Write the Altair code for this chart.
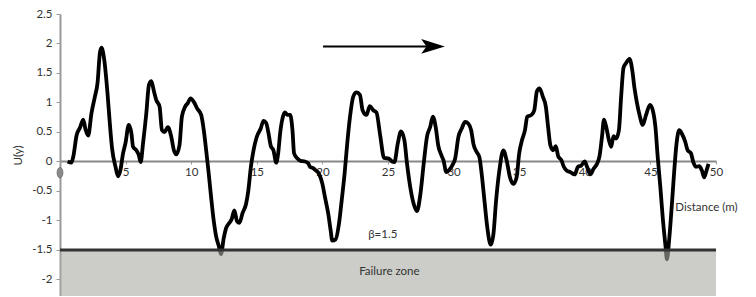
import altair as alt
import pandas as pd

# ---- data ----
dist = [0.58, 0.87, 1.01, 1.27, 1.52, 1.77, 1.95, 2.15, 2.4, 2.66, 2.86, 3.04, 3.16, 3.37, 3.62, 3.8, 3.97, 4.23, 4.43, 4.6,
        4.81, 4.99, 5.24, 5.44, 5.57, 5.82, 6.0, 6.15, 6.33, 6.58, 6.78, 6.96, 7.16, 7.34, 7.59, 7.77, 7.97, 8.22, 8.48, 8.68,
        8.86, 9.11, 9.29, 9.54, 9.74, 9.95, 10.2, 10.45, 10.76, 10.96, 11.14, 11.31, 11.52, 11.72, 11.9, 12.1, 12.27, 12.48, 12.66, 12.91,
        13.08, 13.29, 13.49, 13.67, 13.92, 14.18, 14.35, 14.55, 14.75, 15.0, 15.3, 15.51, 15.72, 15.89, 16.07, 16.27, 16.48, 16.63, 16.78, 16.96,
        17.14, 17.34, 17.54, 17.72, 17.84, 18.1, 18.35, 18.66, 18.91, 19.06, 19.26, 19.49, 19.74, 20.0, 20.2, 20.45, 20.63, 20.75, 21.01, 21.26,
        21.47, 21.69, 21.89, 22.1, 22.35, 22.6, 22.86, 23.06, 23.36, 23.61, 23.87, 24.12, 24.4, 24.7, 25.06, 25.31, 25.49, 25.74, 25.99, 26.25,
        26.45, 26.7, 26.96, 27.21, 27.47, 27.72, 27.97, 28.22, 28.42, 28.63, 28.83, 29.08, 29.23, 29.44, 29.64, 29.89, 30.12, 30.37, 30.62, 30.88,
        31.13, 31.34, 31.51, 31.76, 31.97, 32.14, 32.35, 32.57, 32.83, 33.03, 33.24, 33.49, 33.79, 34.04, 34.3, 34.55, 34.8, 35.0, 35.21, 35.44,
        35.61, 35.94, 36.15, 36.35, 36.55, 36.8, 37.03, 37.2, 37.38, 37.59, 37.79, 37.97, 38.22, 38.4, 38.6, 38.9, 39.23, 39.48, 39.73, 39.99,
        40.17, 40.42, 40.68, 40.93, 41.13, 41.31, 41.46, 41.63, 41.84, 42.01, 42.19, 42.39, 42.6, 42.77, 42.95, 43.15, 43.41, 43.61, 43.79, 43.96,
        44.17, 44.42, 44.67, 44.97, 45.18, 45.38, 45.56, 45.76, 45.94, 46.14, 46.26, 46.44, 46.64, 46.82, 46.99, 47.2, 47.4, 47.66, 47.84, 48.09,
        48.27, 48.47, 48.72, 48.92, 49.1, 49.28, 49.43]
u_vals = [0.0, -0.02, 0.08, 0.45, 0.57, 0.71, 0.54, 0.44, 0.82, 1.1, 1.33, 1.84, 1.93, 1.73, 1.16, 0.64, 0.22, -0.09, -0.25, -0.15,
          0.14, 0.31, 0.62, 0.48, 0.25, 0.19, 0.11, -0.01, 0.31, 0.82, 1.3, 1.36, 1.19, 1.04, 0.93, 0.53, 0.5, 0.58, 0.42, 0.19,
          0.12, 0.28, 0.76, 0.93, 0.99, 1.07, 1.01, 0.9, 0.79, 0.53, 0.19, -0.15, -0.61, -1.01, -1.27, -1.43, -1.57, -1.3, -1.13, -1.04,
          -0.98, -0.83, -1.01, -1.04, -0.87, -0.72, -0.5, -0.09, 0.19, 0.42, 0.56, 0.69, 0.65, 0.48, 0.26, 0.19, -0.02, 0.14, 0.48, 0.73,
          0.83, 0.79, 0.79, 0.53, 0.14, 0.05, 0.01, 0.0, -0.03, -0.09, -0.11, -0.15, -0.21, -0.38, -0.61, -0.89, -1.17, -1.34, -1.32, -1.06,
          -0.66, -0.21, 0.3, 0.75, 1.1, 1.17, 1.13, 0.87, 0.79, 0.94, 0.87, 0.83, 0.45, 0.06, 0.05, 0.0, -0.01, 0.3, 0.51, 0.36,
          -0.04, -0.44, -0.72, -0.84, -0.55, -0.04, 0.42, 0.59, 0.76, 0.59, 0.27, 0.1, 0.02, -0.18, -0.15, -0.07, 0.05, 0.42, 0.56, 0.67,
          0.64, 0.53, 0.3, 0.16, 0.07, -0.21, -0.66, -1.12, -1.41, -1.24, -0.66, -0.15, 0.19, 0.02, -0.27, -0.38, -0.27, 0.14, 0.36, 0.53,
          0.76, 0.79, 0.87, 1.19, 1.24, 1.1, 0.93, 0.59, 0.27, 0.19, 0.26, 0.09, 0.02, -0.09, -0.15, -0.18, -0.22, -0.09, -0.07, 0.0,
          -0.09, -0.22, -0.12, -0.04, 0.1, 0.42, 0.71, 0.59, 0.36, 0.25, 0.43, 0.39, 0.53, 1.1, 1.59, 1.67, 1.74, 1.56, 1.24, 1.01,
          0.79, 0.62, 0.79, 0.96, 0.87, 0.59, 0.07, -0.44, -0.95, -1.41, -1.66, -1.3, -0.72, -0.15, 0.3, 0.53, 0.47, 0.33, 0.19, 0.14,
          -0.01, -0.09, -0.08, -0.15, -0.27, -0.15, -0.04]

x_ticks = [0, 5, 10, 15, 20, 25, 30, 35, 40, 45, 50]
y_ticks = [-2, -1.5, -1, -0.5, 0, 0.5, 1, 1.5, 2, 2.5]
x_domain = [0, 50]
y_domain = [-2.28, 2.5]
beta = -1.5

zone = {"d": [0], "d2": [50], "u": [beta], "u2": [-2.28]}
notes = {"d": [24.6, 25.1, 46.9], "u": [-1.24, -1.88, -0.78],
         "label": ["β=1.5", "Failure zone", "Distance (m)"], "align": ["center", "center", "left"]}
arrow = {"d": [20.05], "d2": [28.6], "u": [1.95]}
arrow_head = {"d": [28.43], "u": [1.95]}
origin_mark = {"d": [0], "u": [-0.19]}

FONT = "Lato"
W, H = 656, 282

df = pd.DataFrame({"d": dist, "u": u_vals})
xs = alt.Scale(domain=x_domain, nice=False, zero=False)
ys = alt.Scale(domain=y_domain, nice=False, zero=False)

zero_offset = -round(H * (0 - y_domain[0]) / (y_domain[1] - y_domain[0]))

x_axis = alt.Axis(
    values=x_ticks, offset=zero_offset, title=None, grid=False,
    tickSize=3, tickColor="#999", labelPadding=2,
    labelExpr="datum.value == 0 ? '' : '' + datum.value",
    domainColor="#888", domainWidth=2.2, labelFont=FONT, labelFontSize=11.5,
    labelColor="#333", labelFlush=False)
y_axis = alt.Axis(
    values=y_ticks, title="U(y)", grid=False, tickSize=4, tickColor="#999",
    labelPadding=4, labelExpr="'' + datum.value", domainColor="#999", domainWidth=2,
    labelFont=FONT, labelFontSize=11.5, labelColor="#333",
    titleFont=FONT, titleFontSize=11.5, titleFontWeight="normal", titleColor="#333",
    titlePadding=8)

X = alt.X("d:Q", scale=xs, axis=x_axis)
Y = alt.Y("u:Q", scale=ys, axis=y_axis)

line = alt.Chart(df).mark_line(color="black", strokeWidth=3.8, interpolate="monotone").encode(x=X, y=Y)

zone_rect = alt.Chart(pd.DataFrame(zone)).mark_rect(color="#aaaca3", opacity=0.6).encode(
    x=X, x2="d2:Q", y=Y, y2="u2:Q")

beta_line = alt.Chart(pd.DataFrame(zone)).mark_rule(color="#333", strokeWidth=3).encode(
    x=X, x2="d2:Q", y=Y)

ndf = pd.DataFrame(notes)
texts = []
for al in ["center", "left"]:
    texts.append(alt.Chart(ndf[ndf["align"] == al]).mark_text(
        font=FONT, fontSize=11.5, color="#333", align=al, baseline="middle").encode(
        x=X, y=Y, text="label:N"))

arrow_line = alt.Chart(pd.DataFrame(arrow)).mark_rule(color="black", strokeWidth=2).encode(
    x=X, x2="d2:Q", y=Y)

head = alt.Chart(pd.DataFrame(arrow_head)).mark_point(
    shape="M 1,0 L -1,-0.62 L -0.55,0 L -1,0.62 Z", filled=True, color="black", opacity=1, size=560).encode(
    x=X, y=Y)

origin = alt.Chart(pd.DataFrame(origin_mark)).mark_point(
    shape="M -0.55,0 A 0.55,1 0 1,0 0.55,0 A 0.55,1 0 1,0 -0.55,0 Z",
    filled=True, color="#8a8a8a", stroke="#666", strokeWidth=0.8, opacity=1, size=110).encode(
    x=X, y=Y)

chart = alt.layer(line, zone_rect, beta_line, *texts, arrow_line, head, origin).properties(
    width=W, height=H,
    autosize=alt.AutoSizeParams(type="none"),
    padding={"left": 52, "top": 6, "right": 32, "bottom": 0},
).configure_view(stroke=None)

chart.save("out.html", embed_options={"renderer": "svg", "actions": False})
